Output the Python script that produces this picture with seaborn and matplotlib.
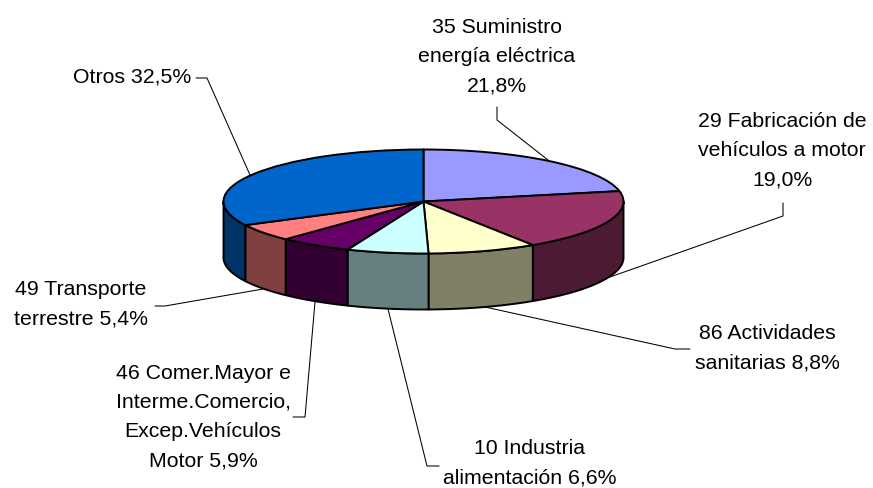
# plot.py - 3D style pie chart, sectors by share

import numpy as np
import matplotlib
matplotlib.use("Agg")
import matplotlib.pyplot as plt
import seaborn as sns

# ==================== DATA ====================
labels = ["35 Suministro\nenergía eléctrica\n21,8%",
          "29 Fabricación de\nvehículos a motor\n19,0%",
          "86 Actividades\nsanitarias 8,8%",
          "10 Industria\nalimentación 6,6%",
          "46 Comer.Mayor e\nInterme.Comercio,\nExcep.Vehículos\nMotor 5,9%",
          "49 Transporte\nterrestre 5,4%",
          "Otros 32,5%"]
values = [21.8, 19.0, 8.8, 6.6, 5.9, 5.4, 32.5]
colors = ["#9999FF", "#993366", "#FFFFCC", "#CCFFFF", "#660066", "#FF8080", "#0066CC"]

# label centres and leader lines, in image pixels
label_pos = [(497, 57), (782, 151), (767, 348), (529.5, 463), (203, 417), (81, 304), (132, 77)]
leaders = [[(497, 107), (497, 120), (548, 160)],
           [(783, 203), (783, 216), (610, 277)],
           [(485, 307), (675, 349), (690, 349)],
           [(388, 309), (427, 466), (439, 466)],
           [(315, 302), (305, 417), (293, 417)],
           [(263, 289), (165, 306), (155, 306)],
           [(196, 78), (207, 78), (250, 175)]]

# ==================== LAYOUT ====================
W, H = 873, 488
CX, CY = 423.5, 201.5
RX, RY = 200, 52
DEPTH = 56 / RY

sns.set_theme(style="white")
plt.rcParams["font.family"] = ["Liberation Sans", "DejaVu Sans"]

fig = plt.figure(figsize=(W / 100, H / 100), dpi=100)
ax = fig.add_axes([0, 0, 1, 1])


def px(x, y):
    return (x - CX) / RX, (CY - y) / RY


# side wall first, only the front half of the pie can be seen
edges = np.concatenate([[0], np.cumsum(values)]) / sum(values) * 360
for i, c in enumerate(colors):
    a0, a1 = max(edges[i], 90), min(edges[i + 1], 270)
    if a1 <= a0:
        continue
    t = np.radians(np.linspace(a0, a1, 80))
    x, y = np.sin(t), np.cos(t)
    dark = tuple(v * 0.5 for v in matplotlib.colors.to_rgb(c))
    ax.fill(np.r_[x, x[::-1]], np.r_[y, y[::-1] - DEPTH], facecolor=dark,
            edgecolor="black", lw=1.4, joinstyle="round", zorder=1)

# top of the pie
ax.pie(values, colors=colors, startangle=90, counterclock=False, radius=1, center=(0, 0),
       wedgeprops=dict(edgecolor="black", linewidth=1.4), normalize=True)
for w in ax.patches:
    w.set_zorder(2)

for line in leaders:
    pts = np.array([px(*p) for p in line])
    ax.plot(pts[:, 0], pts[:, 1], color="black", lw=0.75, zorder=0)

for text, pos in zip(labels, label_pos):
    tx, ty = px(*pos)
    ax.text(tx, ty, text, ha="center", va="center", fontsize=15.3, color="black",
            linespacing=1.68, zorder=3)

# pie forces equal aspect, undo it so the circle becomes the flat ellipse
ax.set_aspect("auto")
ax.set_xlim(-CX / RX, (W - CX) / RX)
ax.set_ylim((CY - H) / RY, CY / RY)
ax.axis("off")

fig.savefig("out.png", dpi=100, facecolor="white")
